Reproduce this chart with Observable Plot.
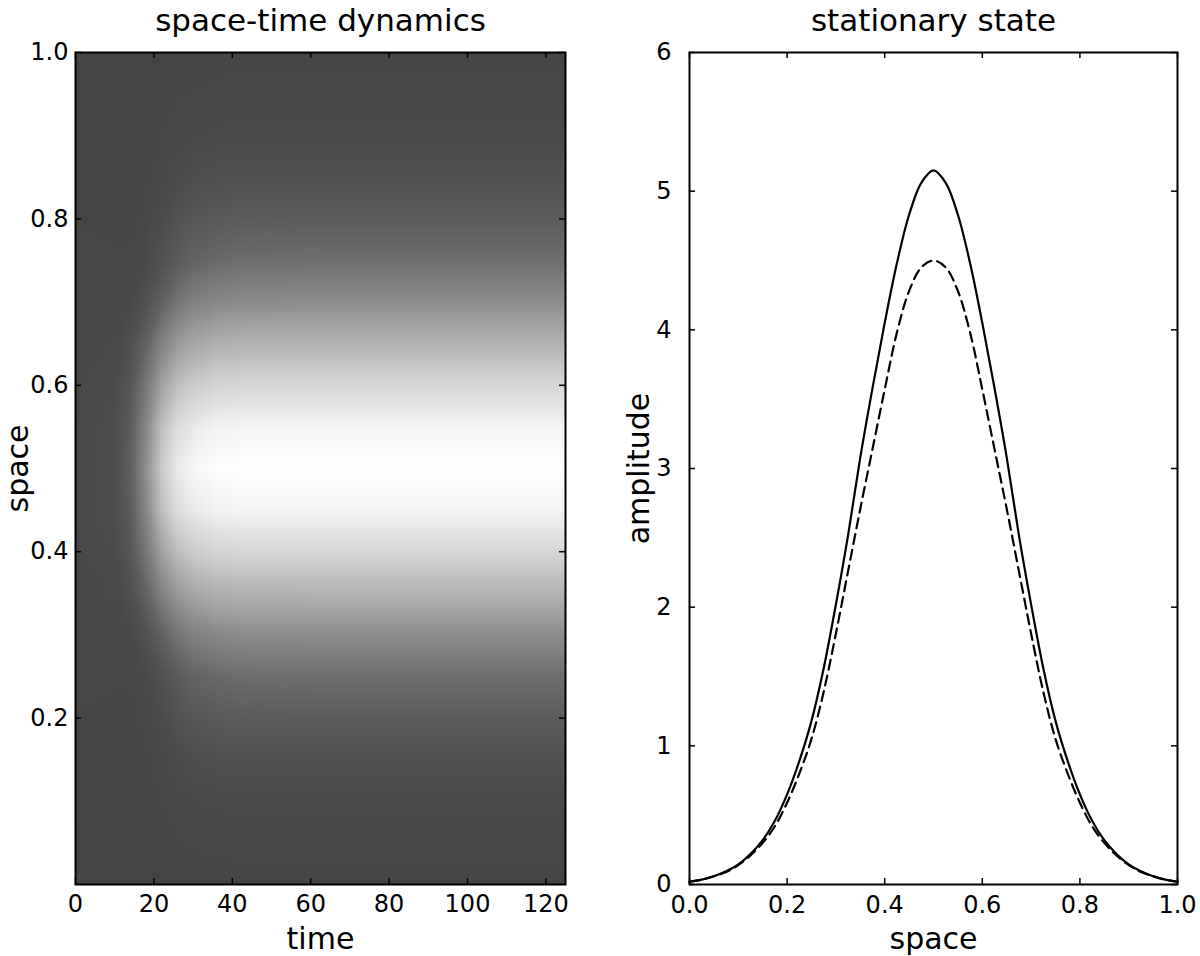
<!DOCTYPE html>
<html><head><meta charset="utf-8">
<script src="https://cdn.jsdelivr.net/npm/d3@7"></script>
<script src="https://cdn.jsdelivr.net/npm/@observablehq/plot@0.6"></script>
<style>
body{margin:0;background:#fff}
#wrap{position:relative;width:1200px;height:956px;overflow:hidden}
#left{position:absolute;left:0;top:0}
#right{position:absolute;left:600px;top:0}
</style>
</head><body><div id="wrap"><div id="left"></div><div id="right"></div></div>
<script>
// ---------- data: left panel (space-time dynamics) ----------
const heatTimes = [0, 10, 14, 18, 22, 26, 30, 36, 42, 62, 125];
const heatSpace = [0,0.05,0.1,0.15,0.2,0.25,0.3,0.35,0.4,0.45,0.5,0.55,0.6,0.65,0.7,0.75,0.8,0.85,0.9,0.95,1];
const amp_t0   = [0.00,0.01,0.02,0.03,0.04,0.06,0.08,0.10,0.11,0.12,0.12,0.12,0.11,0.10,0.08,0.06,0.04,0.03,0.02,0.01,0.00];
const amp_t10  = [0.00,0.00,0.01,0.02,0.03,0.05,0.08,0.13,0.18,0.24,0.25,0.24,0.18,0.13,0.08,0.05,0.03,0.02,0.01,0.00,0.00];
const amp_t14  = [0.00,0.00,0.01,0.02,0.03,0.06,0.12,0.31,0.53,0.68,0.77,0.68,0.53,0.31,0.12,0.06,0.03,0.02,0.01,0.00,0.00];
const amp_t18  = [0.00,0.01,0.02,0.04,0.08,0.14,0.36,0.86,1.42,1.84,2.06,1.84,1.42,0.86,0.36,0.14,0.08,0.04,0.02,0.01,0.00];
const amp_t22  = [0.01,0.02,0.05,0.10,0.20,0.35,0.81,1.69,2.59,3.38,3.71,3.38,2.59,1.69,0.81,0.35,0.20,0.10,0.05,0.02,0.01];
const amp_t26  = [0.01,0.04,0.09,0.18,0.37,0.63,1.31,2.34,3.36,4.20,4.53,4.20,3.36,2.34,1.31,0.63,0.37,0.18,0.09,0.04,0.01];
const amp_t30  = [0.02,0.05,0.12,0.25,0.51,0.86,1.66,2.71,3.73,4.54,4.89,4.54,3.73,2.71,1.66,0.86,0.51,0.25,0.12,0.05,0.02];
const amp_t36  = [0.02,0.06,0.14,0.30,0.61,1.04,1.88,2.96,3.97,4.78,5.10,4.78,3.97,2.96,1.88,1.04,0.61,0.30,0.14,0.06,0.02];
const amp_t42  = [0.02,0.07,0.16,0.32,0.66,1.12,1.98,3.05,4.05,4.83,5.15,4.83,4.05,3.05,1.98,1.12,0.66,0.32,0.16,0.07,0.02];
const amp_t62  = [0.02,0.07,0.16,0.33,0.68,1.15,2.02,3.08,4.05,4.83,5.15,4.83,4.05,3.08,2.02,1.15,0.68,0.33,0.16,0.07,0.02];
const amp_t125 = [0.02,0.07,0.16,0.33,0.68,1.15,2.02,3.08,4.05,4.83,5.15,4.83,4.05,3.08,2.02,1.15,0.68,0.33,0.16,0.07,0.02];
const timeTicks = [0, 20, 40, 60, 80, 100, 120];
const leftSpaceTicks = [0.2, 0.4, 0.6, 0.8, 1.0];

// ---------- data: right panel (stationary state) ----------
const curveSpace = [0,0.025,0.05,0.075,0.1,0.125,0.15,0.175,0.2,0.225,0.25,0.275,0.3,0.325,0.35,0.375,0.4,0.425,0.45,0.475,0.5,
  0.525,0.55,0.575,0.6,0.625,0.65,0.675,0.7,0.725,0.75,0.775,0.8,0.825,0.85,0.875,0.9,0.925,0.95,0.975,1];
const solidAmp = [0.02,0.035,0.06,0.095,0.145,0.22,0.32,0.46,0.65,0.89,1.18,1.56,2.02,2.52,3.08,3.58,4.05,4.48,4.83,5.06,5.15,
  5.06,4.83,4.48,4.05,3.58,3.08,2.52,2.02,1.56,1.18,0.89,0.65,0.46,0.32,0.22,0.145,0.095,0.06,0.035,0.02];
const dashedAmp = [0.02,0.035,0.06,0.09,0.14,0.21,0.30,0.42,0.59,0.80,1.05,1.39,1.81,2.26,2.71,3.14,3.57,3.98,4.28,4.45,4.50,
  4.45,4.28,3.98,3.57,3.14,2.71,2.26,1.81,1.39,1.05,0.80,0.59,0.42,0.30,0.21,0.14,0.09,0.06,0.035,0.02];
const spaceTicks = [0, 0.2, 0.4, 0.6, 0.8, 1.0];
const ampTicks = [0, 1, 2, 3, 4, 5, 6];

// ---------- build ----------
const FONT = "'DejaVu Sans', sans-serif";
const H = 956, MT = 52, MB = 72;
const frameH = H - MT - MB;
const TICK = 6;

const heatColumns = [amp_t0, amp_t10, amp_t14, amp_t18, amp_t22, amp_t26, amp_t30, amp_t36, amp_t42, amp_t62, amp_t125];
const heatRows = [];
heatTimes.forEach((t, j) => heatColumns[j].forEach((v, i) => heatRows.push({t, s: heatSpace[i], v})));

const curveRows = curveSpace.map((s, i) => ({s, solid: solidAmp[i], dashed: dashedAmp[i]}));

function innerTicks(xt, yt, frameW) {
  const o = {stroke: "black", strokeWidth: 1.5};
  return [
    Plot.ruleX(xt, {...o, insetTop: frameH - TICK}),
    Plot.ruleX(xt, {...o, insetBottom: frameH - TICK}),
    Plot.ruleY(yt, {...o, insetRight: frameW - TICK}),
    Plot.ruleY(yt, {...o, insetLeft: frameW - TICK})
  ];
}
const titleOpts = {frameAnchor: "top", dy: -31, fontSize: 31, textAnchor: "middle", lineAnchor: "middle"};
const xLabelOpts = {frameAnchor: "bottom", dy: 55, fontSize: 30, textAnchor: "middle", lineAnchor: "middle"};

const LML = 75, LMR = 35;
const left = Plot.plot({
  width: 600, height: H, marginLeft: LML, marginRight: LMR, marginTop: MT, marginBottom: MB,
  style: {fontFamily: FONT, fontSize: "24px", color: "black", background: "white", overflow: "visible"},
  x: {domain: [0, 125]},
  y: {domain: [0, 1]},
  color: {type: "linear", domain: [0, 5.15], range: ["#444444", "#ffffff"]},
  marks: [
    Plot.raster(heatRows, {x: "t", y: "s", fill: "v", interpolate: "barycentric"}),
    ...innerTicks(timeTicks, leftSpaceTicks, 600 - LML - LMR),
    Plot.frame({stroke: "black", strokeWidth: 2}),
    Plot.axisX(timeTicks, {tickSize: 0, tickPadding: 10, label: null}),
    Plot.axisY(leftSpaceTicks, {tickSize: 0, tickPadding: 7, label: null, tickFormat: d3.format(".1f")}),
    Plot.text(["space-time dynamics"], titleOpts),
    Plot.text(["time"], xLabelOpts),
    Plot.text(["space"], {frameAnchor: "left", dx: -57, rotate: -90, fontSize: 30, textAnchor: "middle", lineAnchor: "middle"})
  ]
});
document.getElementById("left").appendChild(left);

const RML = 89, RMR = 23;
const right = Plot.plot({
  width: 600, height: H, marginLeft: RML, marginRight: RMR, marginTop: MT, marginBottom: MB,
  style: {fontFamily: FONT, fontSize: "24px", color: "black", background: "white", overflow: "visible"},
  x: {domain: [0, 1]},
  y: {domain: [0, 6]},
  marks: [
    Plot.line(curveRows, {x: "s", y: "solid", stroke: "black", strokeWidth: 2.2, curve: "catmull-rom"}),
    Plot.line(curveRows, {x: "s", y: "dashed", stroke: "black", strokeWidth: 2.2, strokeDasharray: "10,6", curve: "catmull-rom"}),
    ...innerTicks(spaceTicks, ampTicks, 600 - RML - RMR),
    Plot.frame({stroke: "black", strokeWidth: 2}),
    Plot.axisX(spaceTicks, {tickSize: 0, tickPadding: 11, label: null, tickFormat: d3.format(".1f")}),
    Plot.axisY(ampTicks, {tickSize: 0, tickPadding: 18, label: null, tickFormat: d3.format("d")}),
    Plot.text(["stationary state"], titleOpts),
    Plot.text(["space"], xLabelOpts),
    Plot.text(["amplitude"], {frameAnchor: "left", dx: -50, rotate: -90, fontSize: 30, textAnchor: "middle", lineAnchor: "middle"})
  ]
});
document.getElementById("right").appendChild(right);
</script>
</body></html>
